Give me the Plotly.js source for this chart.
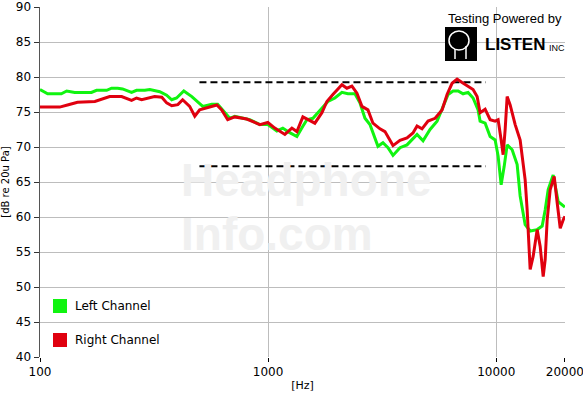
<!DOCTYPE html>
<html>
<head>
<meta charset="utf-8">
<script src="https://cdn.plot.ly/plotly-3.0.1.min.js"></script>
<style>html,body{margin:0;padding:0;background:#fff;}#chart{width:583px;height:395px;}</style>
</head>
<body>
<div id="chart"></div>
<script>
// Left channel (green) frequency response
var leftFreq = [100, 108, 116, 124, 131, 142, 168, 177, 196, 206, 219, 230, 252, 265, 288, 303, 335, 359, 378, 397, 427, 463, 517, 566, 601, 633, 679, 714, 831, 920, 997, 1092, 1160, 1221, 1337, 1420, 1479, 1572, 1721, 1829, 1962, 2106, 2238, 2402, 2526, 2658, 2795, 2940, 3030, 3187, 3353, 3527, 3785, 4063, 4496, 4777, 5127, 5503, 5848, 6151, 6469, 6806, 7156, 7526, 7916, 8326, 8496, 8939, 9402, 9890, 10193, 10508, 10831, 11164, 11742, 12350, 12730, 13390, 14083, 15116, 15899, 16389, 16892, 17767, 18688, 19460, 20000];
var leftDb = [78.2, 77.6, 77.6, 77.6, 78.0, 77.8, 77.8, 78.1, 78.1, 78.4, 78.4, 78.3, 77.8, 78.1, 78.1, 78.2, 77.9, 77.4, 76.75, 77.0, 78.0, 77.2, 75.8, 76.1, 76.1, 75.3, 74.1, 74.4, 73.9, 73.2, 73.2, 72.3, 72.7, 72.2, 71.5, 72.95, 73.9, 74.1, 75.6, 76.5, 77.0, 77.8, 77.6, 77.6, 76.3, 74.1, 73.2, 71.3, 70.1, 70.6, 69.9, 68.8, 69.9, 70.3, 71.8, 70.9, 72.5, 73.7, 75.8, 77.5, 78.0, 78.0, 77.6, 77.8, 77.0, 75.3, 73.7, 73.4, 71.5, 71.0, 68.7, 64.6, 67.2, 70.3, 69.6, 67.5, 63.0, 58.9, 58.0, 58.2, 58.7, 61.0, 63.9, 66.0, 62.2, 61.8, 61.4];

// Right channel (red) frequency response
var rightFreq = [100, 122, 132, 146, 174, 192, 202, 228, 252, 265, 279, 318, 342, 359, 378, 402, 422, 453, 477, 501, 538, 596, 626, 665, 714, 806, 920, 997, 1070, 1184, 1271, 1337, 1420, 1494, 1603, 1721, 1810, 1923, 2106, 2215, 2330, 2451, 2578, 2739, 2881, 3093, 3253, 3527, 3785, 4063, 4316, 4496, 4728, 5024, 5395, 5788, 6088, 6404, 6735, 7084, 7451, 7916, 8245, 8496, 8939, 9402, 9890, 10193, 10508, 10722, 10942, 11164, 11509, 12106, 12730, 13390, 13663, 14083, 14521, 15116, 15582, 16063, 16389, 16722, 17237, 17950, 18505, 19077, 19665, 20000];
var rightDb = [75.7, 75.7, 76.0, 76.4, 76.5, 77.0, 77.2, 77.2, 76.65, 77.0, 76.75, 77.2, 77.1, 76.3, 75.9, 76.05, 76.75, 75.8, 74.4, 75.3, 75.6, 76.0, 75.3, 73.9, 74.3, 74.0, 73.2, 73.5, 72.7, 71.8, 72.7, 72.2, 74.3, 73.9, 73.4, 74.9, 76.5, 77.5, 78.9, 78.4, 78.7, 77.7, 75.8, 75.3, 73.4, 72.6, 72.2, 70.2, 70.95, 71.3, 72.0, 73.0, 72.6, 73.7, 74.1, 75.3, 77.5, 79.1, 79.7, 79.2, 78.7, 78.2, 77.2, 74.9, 75.4, 73.9, 73.7, 73.9, 71.0, 68.9, 72.5, 77.2, 76.0, 73.2, 71.0, 65.3, 61.0, 52.5, 54.4, 58.2, 55.8, 51.5, 53.9, 59.6, 63.9, 65.8, 62.0, 58.4, 59.6, 60.1];

// Tolerance (dashed) reference lines
var bandFreq = [500, 9000];
var bandUpper = [79.25, 79.25];
var bandLower = [67.25, 67.25];

// Axis ticks
var xTickVals = [100, 1000, 10000, 20000];
var xTickText = ['100', '1000', '10000', '20000'];

var seriesNames = ['Left Channel', 'Right Channel'];
var seriesColors = ['#10f410', '#e0000f'];

var traces = [
  {x: bandFreq, y: bandUpper, mode: 'lines', line: {color: '#000', width: 2, dash: '7px,4px'}, showlegend: false, hoverinfo: 'skip'},
  {x: bandFreq, y: bandLower, mode: 'lines', line: {color: '#000', width: 2, dash: '7px,4px'}, showlegend: false, hoverinfo: 'skip'},
  {x: leftFreq, y: leftDb, name: seriesNames[0], mode: 'lines', line: {color: seriesColors[0], width: 3}, showlegend: false},
  {x: rightFreq, y: rightDb, name: seriesNames[1], mode: 'lines', line: {color: seriesColors[1], width: 3}, showlegend: false}
];

var W = 583, H = 395, L = 40, R = 18, T = 7, B = 38;
var pw = W - L - R, ph = H - T - B;
function px(x){ return (x - L) / pw; }
function py(y){ return (H - B - y) / ph; }

var shapes = [
  // legend swatches
  {type: 'rect', xref: 'paper', yref: 'paper', x0: px(53), x1: px(67), y0: py(313), y1: py(299), fillcolor: seriesColors[0], line: {width: 0}},
  {type: 'rect', xref: 'paper', yref: 'paper', x0: px(53), x1: px(67), y0: py(347), y1: py(333), fillcolor: seriesColors[1], line: {width: 0}},
  // logo box
  {type: 'rect', xref: 'paper', yref: 'paper', x0: px(445), x1: px(477), y0: py(61), y1: py(27), fillcolor: '#000', line: {width: 0}},
  {type: 'circle', xref: 'paper', yref: 'paper', x0: px(449), x1: px(469), y0: py(50), y1: py(31), fillcolor: 'rgba(0,0,0,0)', line: {color: '#fff', width: 1.5}},
  {type: 'line', xref: 'paper', yref: 'paper', x0: px(455), x1: px(455), y0: py(49), y1: py(59), line: {color: '#fff', width: 1.5}},
  {type: 'line', xref: 'paper', yref: 'paper', x0: px(466), x1: px(466), y0: py(46), y1: py(59), line: {color: '#fff', width: 1.5}}
];

var wmFont = {family: 'Liberation Sans, Arial, sans-serif', size: 46, color: '#f0f0f0'};
var annotations = [
  // watermark
  {xref: 'paper', yref: 'paper', x: px(180), y: py(180), text: '<b>Headphone</b>', showarrow: false, font: wmFont, xanchor: 'left', yanchor: 'middle', borderpad: 0},
  {xref: 'paper', yref: 'paper', x: px(180), y: py(234), text: '<b>Info.com</b>', showarrow: false, font: wmFont, xanchor: 'left', yanchor: 'middle', borderpad: 0},
  // legend labels
  {xref: 'paper', yref: 'paper', x: px(73), y: py(306), text: seriesNames[0], showarrow: false, font: {family: 'DejaVu Sans, Verdana, sans-serif', size: 12, color: '#000'}, xanchor: 'left', yanchor: 'middle'},
  {xref: 'paper', yref: 'paper', x: px(73), y: py(340), text: seriesNames[1], showarrow: false, font: {family: 'DejaVu Sans, Verdana, sans-serif', size: 12, color: '#000'}, xanchor: 'left', yanchor: 'middle'},
  // logo
  {xref: 'paper', yref: 'paper', x: px(564), y: py(19), text: 'Testing Powered by', showarrow: false, font: {family: 'Liberation Sans, Arial, sans-serif', size: 13, color: '#000'}, xanchor: 'right', yanchor: 'middle'},
  {xref: 'paper', yref: 'paper', x: px(484), y: py(45), text: '<b>LISTEN</b>', showarrow: false, font: {family: 'Liberation Sans, Arial, sans-serif', size: 17, color: '#000'}, xanchor: 'left', yanchor: 'middle', borderpad: 0},
  {xref: 'paper', yref: 'paper', x: px(548), y: py(48), text: 'INC', showarrow: false, font: {family: 'Liberation Sans, Arial, sans-serif', size: 9, color: '#000'}, xanchor: 'left', yanchor: 'middle', borderpad: 0}
];

var layout = {
  width: W, height: H,
  margin: {l: L, r: R, t: T, b: B, pad: 0},
  paper_bgcolor: '#fff', plot_bgcolor: '#fff',
  showlegend: false,
  font: {family: 'DejaVu Sans, Verdana, sans-serif', size: 12, color: '#000'},
  xaxis: {
    type: 'log', range: [2, Math.log10(20000) + 0.0004],
    tickvals: xTickVals, ticktext: xTickText,
    ticks: 'outside', ticklen: 4, tickwidth: 1, tickcolor: '#000',
    ticklabeloverflow: 'allow',
    showgrid: true, gridcolor: '#bdbdbd', gridwidth: 1,
    showline: false, zeroline: false,
    tickfont: {family: 'DejaVu Sans, Verdana, sans-serif', size: 12, color: '#000'},
    title: {text: '[Hz]', font: {family: 'DejaVu Sans, Verdana, sans-serif', size: 11, color: '#000'}, standoff: 2}
  },
  yaxis: {
    range: [40, 90], dtick: 5, tick0: 40,
    ticks: 'outside', ticklen: 5, tickwidth: 1, tickcolor: '#333',
    showgrid: true, gridcolor: '#bdbdbd', gridwidth: 1,
    showline: true, linecolor: '#555', linewidth: 1.5, zeroline: false,
    tickfont: {family: 'DejaVu Sans, Verdana, sans-serif', size: 12, color: '#000'},
    title: {text: '[dB re 20u Pa]', font: {family: 'DejaVu Sans, Verdana, sans-serif', size: 10, color: '#000'}, standoff: 6}
  },
  shapes: shapes,
  annotations: annotations
};

Plotly.newPlot('chart', traces, layout, {staticPlot: true, displayModeBar: false});
</script>
</body>
</html>
